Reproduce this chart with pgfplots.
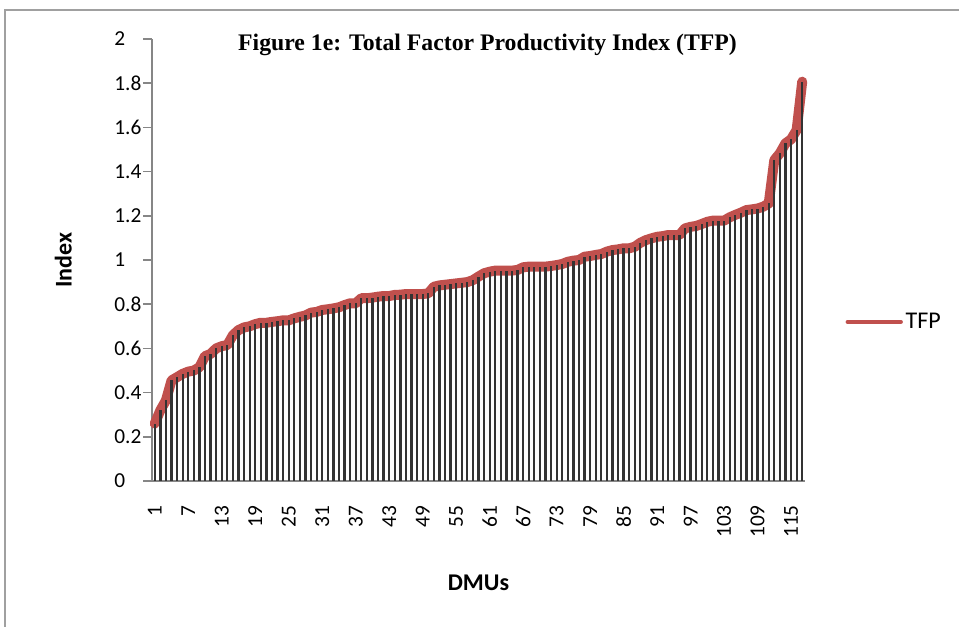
\documentclass[border=0pt]{standalone}
\usepackage{pgfplots}
\pgfplotsset{compat=1.18}
\usepackage{pgfplotstable}
\usepackage{fontspec}
\setmainfont{Carlito}
\newfontfamily\titlefont{Liberation Serif}
\definecolor{tfpred}{HTML}{C0504D}
\definecolor{axgray}{HTML}{868686}
\definecolor{framegray}{HTML}{A0A0A0}

\pgfplotstableread{
x y
1 0.26
2 0.32
3 0.365
4 0.455
5 0.47
6 0.485
7 0.495
8 0.50
9 0.515
10 0.565
11 0.575
12 0.60
13 0.61
14 0.615
15 0.66
16 0.683
17 0.695
18 0.70
19 0.71
20 0.716
21 0.716
22 0.72
23 0.723
24 0.727
25 0.727
26 0.736
27 0.743
28 0.749
29 0.762
30 0.765
31 0.774
32 0.777
33 0.781
34 0.786
35 0.796
36 0.804
37 0.804
38 0.827
39 0.827
40 0.83
41 0.834
42 0.837
43 0.837
44 0.842
45 0.843
46 0.846
47 0.846
48 0.846
49 0.846
50 0.849
51 0.879
52 0.885
53 0.888
54 0.891
55 0.894
56 0.897
57 0.90
58 0.909
59 0.925
60 0.94
61 0.947
62 0.952
63 0.952
64 0.952
65 0.952
66 0.955
67 0.967
68 0.97
69 0.97
70 0.97
71 0.97
72 0.973
73 0.977
74 0.982
75 0.992
76 0.997
77 1.00
78 1.015
79 1.018
80 1.023
81 1.027
82 1.038
83 1.045
84 1.048
85 1.053
86 1.053
87 1.06
88 1.078
89 1.09
90 1.098
91 1.105
92 1.108
93 1.113
94 1.113
95 1.113
96 1.143
97 1.15
98 1.154
99 1.163
100 1.173
101 1.178
102 1.178
103 1.178
104 1.193
105 1.204
106 1.214
107 1.226
108 1.229
109 1.233
110 1.241
111 1.256
112 1.452
113 1.483
114 1.528
115 1.546
116 1.588
117 1.807
}\tfpdata

\begin{document}
\begin{tikzpicture}
\useasboundingbox (0pt,0pt) rectangle (719.25pt,470.25pt);
\draw[framegray, line width=1.1pt] (3.75pt,0pt) -- (3.75pt,462.75pt) -- (720pt,462.75pt);
\node[font=\titlefont\bfseries\fontsize{17.8}{21}\selectfont] at (365.6pt,436.5pt) {Figure 1e: Total Factor Productivity Index (TFP)};
\begin{axis}[
  at={(114pt,109.5pt)}, anchor=south west,
  scale only axis, width=489.75pt, height=331.5pt,
  xmin=0.5, xmax=117.5, ymin=0, ymax=2,
  clip=false,
  axis x line=bottom, axis y line=left,
  axis line style={-, axgray, line width=1.1pt},
  xtick={1,7,...,115},
  ytick={0,0.2,0.4,0.6,0.8,1,1.2,1.4,1.6,1.8,2},
  tick align=outside,
  major tick length=6.75pt,
  tick style={axgray, line width=1.1pt},
  every x tick/.append style={draw=none},
  every major x tick/.append style={draw=none},
  /pgf/number format/assume math mode=true,
  tick label style={font=\fontsize{16}{19}\selectfont, black},
  xticklabel style={yshift=-8pt, rotate=90, anchor=east},
  yticklabel style={anchor=west, xshift=-25pt},
  xlabel={\bfseries DMUs},
  ylabel={\bfseries Index},
  label style={font=\fontsize{18}{21}\selectfont},
  xlabel style={at={(axis description cs:0.5,-0.231)}, anchor=center},
  ylabel style={at={(axis description cs:-0.136,0.5)}, anchor=center},
  legend style={at={(axis description cs:1.137,0.36)}, anchor=center, draw=none, fill=none, font=\fontsize{18}{21}\selectfont},
  legend image code/.code={\draw[#1, line width=3pt] (0pt,0pt) -- (40pt,0pt);},
]
\addplot[tfpred, line width=7.5pt, line join=round, line cap=round] table[x=x,y=y] {\tfpdata};
\addlegendentry{TFP}
\addplot[ycomb, black!80, line width=1.7pt, forget plot] table[x=x,y=y] {\tfpdata};
\end{axis}
\end{tikzpicture}
\end{document}
